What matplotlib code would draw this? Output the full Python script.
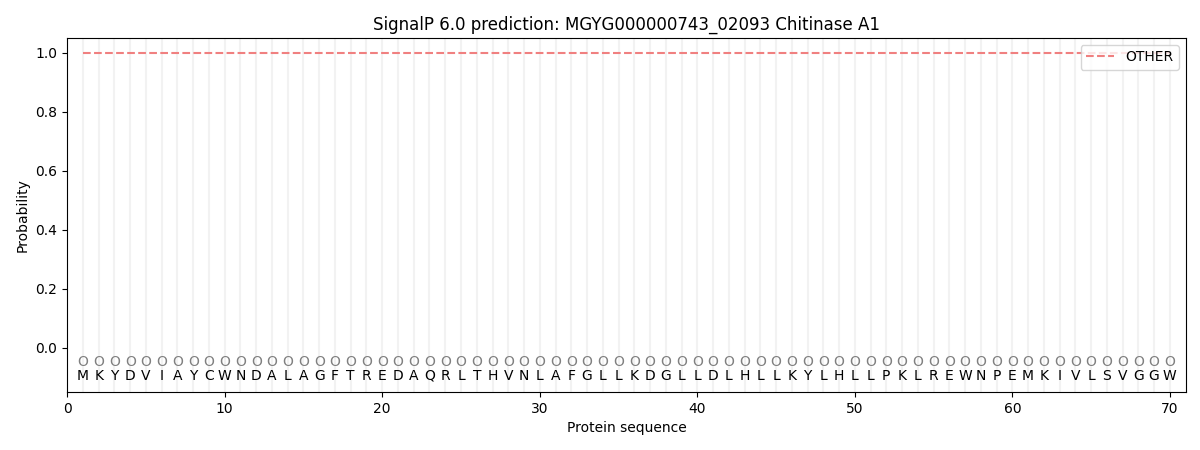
import matplotlib
matplotlib.use('Agg')
import matplotlib.pyplot as plt
import numpy as np

sequence = 'MKYDVIAYCWNDALAGFTREDAQRLTHVNLAFGLLKDGLLDLHLLKYLHLLPKLREWNPEMKIVLSVGGW'
labels = ['O'] * len(sequence)
positions = np.arange(1, len(sequence) + 1)
prob_other = np.ones(len(sequence))

fig, ax = plt.subplots(figsize=(12, 4.5), dpi=100)

for p in positions:
    ax.axvline(p, color='#f2f2f2', linewidth=1.5, zorder=0)

ax.plot(positions, prob_other, '--', color='#f08080', label='OTHER', linewidth=1.5)

for p, aa, lab in zip(positions, sequence, labels):
    ax.text(p, -0.05, lab, ha='center', va='center', fontsize=10, color='gray')
    ax.text(p, -0.095, aa, ha='center', va='center', fontsize=10, color='black')

ax.set_xlim(0, 71)
ax.set_ylim(-0.15, 1.05)
ax.set_xlabel('Protein sequence')
ax.set_ylabel('Probability')
ax.set_title('SignalP 6.0 prediction: MGYG000000743_02093 Chitinase A1')
ax.legend(loc='upper right')

plt.subplots_adjust(left=0.056, right=0.988, top=0.916, bottom=0.129)
plt.savefig('out.png')
plt.close()
